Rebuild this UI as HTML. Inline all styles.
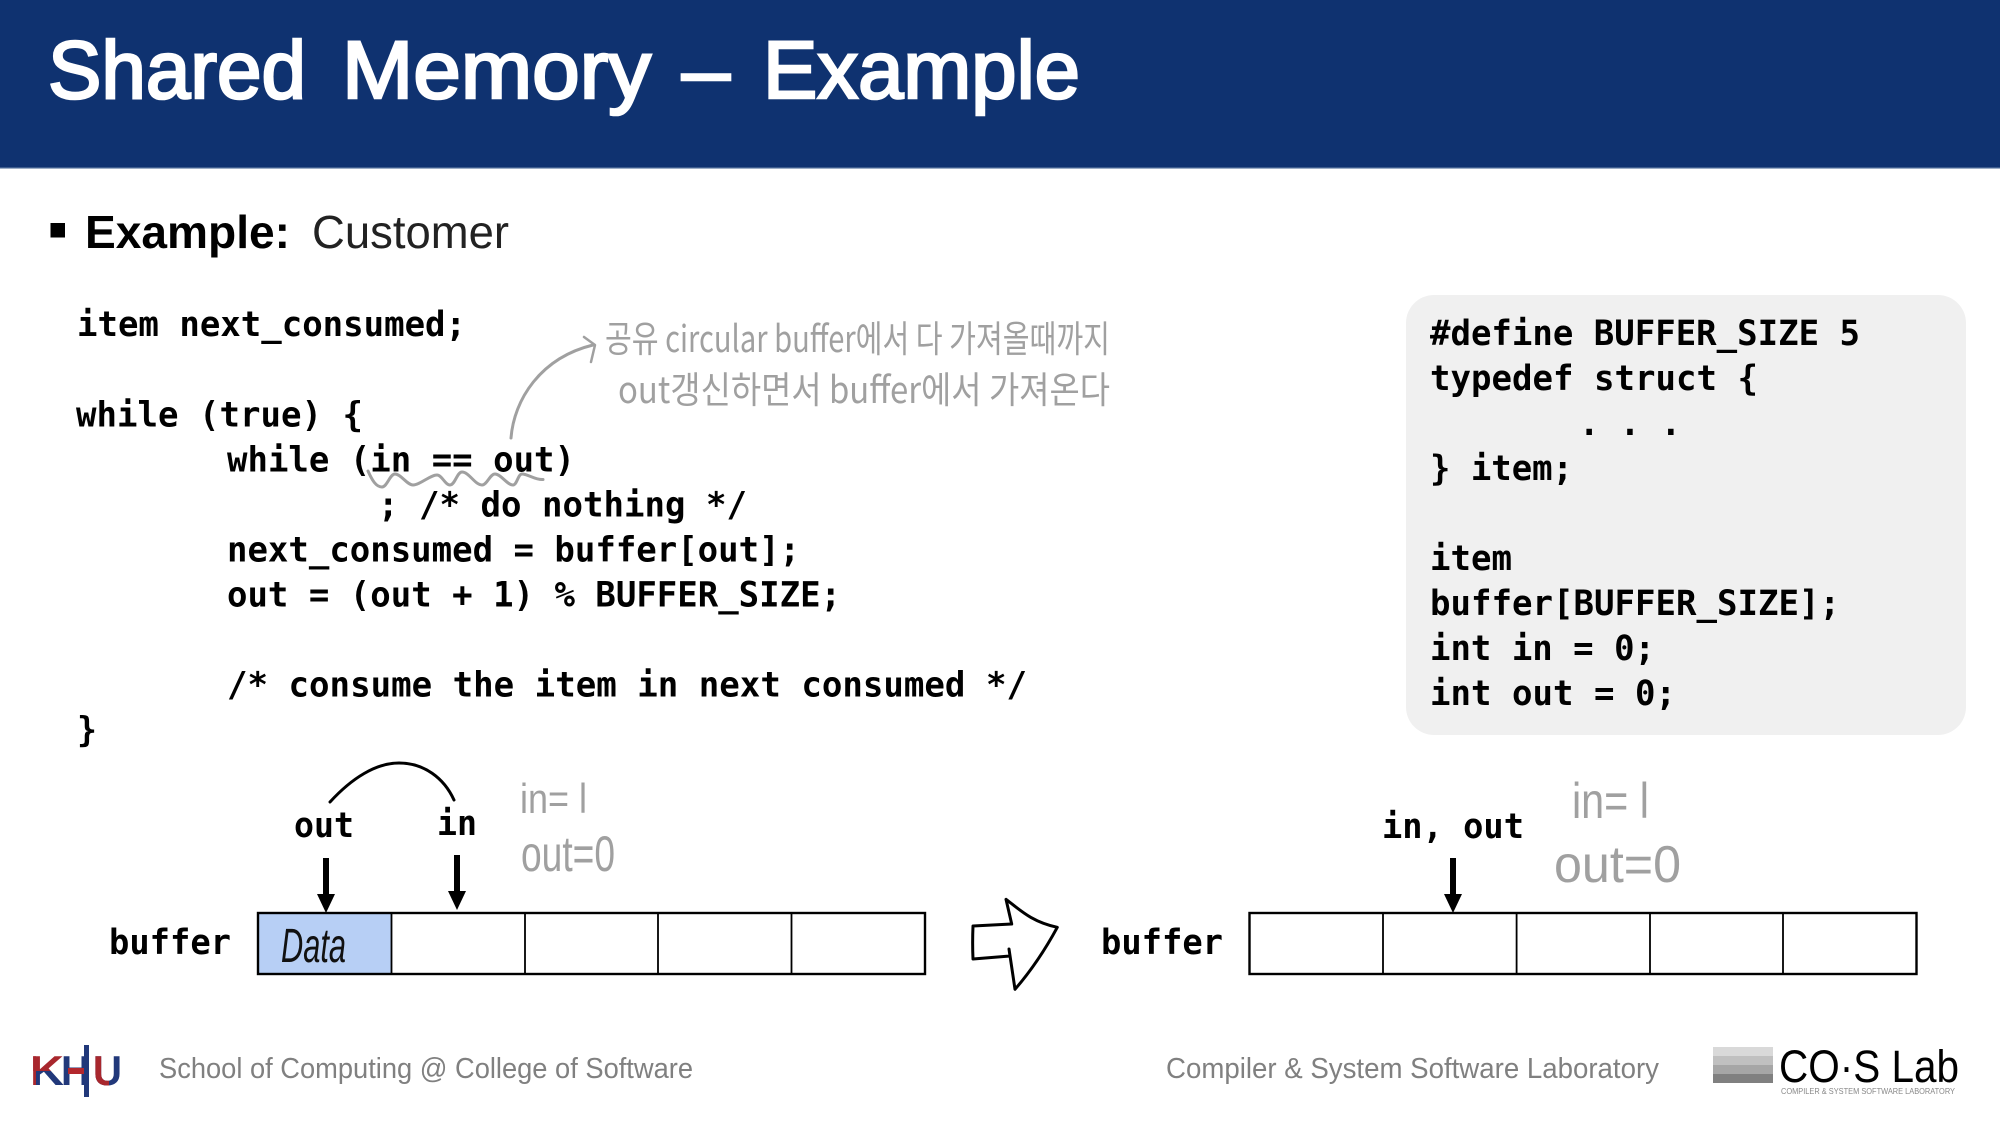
<!DOCTYPE html>
<html lang="en">
<head>
<meta charset="utf-8">
<title>Shared Memory - Example</title>
<style>
html,body{margin:0;padding:0;background:#fff;width:2000px;height:1125px;overflow:hidden}
svg{display:block}
.m{font-family:"DejaVu Sans Mono","Liberation Mono",monospace;font-weight:700;font-size:35px;fill:#000}
.s{font-family:"Liberation Sans",sans-serif}
.t{font-family:"Liberation Sans",sans-serif;font-size:82px;fill:#fff;stroke:#fff;stroke-width:2.6}
.h{font-family:"Noto Sans CJK KR","NanumGothic","Liberation Sans",sans-serif;font-weight:400;fill:#a0a0a0}
.hw{font-family:"Liberation Sans",sans-serif;fill:#a0a0a0}
.f{font-family:"Liberation Sans",sans-serif;font-size:29px;fill:#808080}
</style>
</head>
<body>
<svg xmlns="http://www.w3.org/2000/svg" width="2000" height="1125" viewBox="0 0 2000 1125">
<defs>
<clipPath id="ku"><rect x="20" y="1040" width="120" height="31"/></clipPath>
<clipPath id="kl"><rect x="36" y="1071" width="120" height="30"/></clipPath>
<clipPath id="kb"><rect x="20" y="1040" width="16" height="60"/></clipPath>
<clipPath id="ur"><rect x="90" y="1040" width="19" height="60"/></clipPath>
</defs>
<rect width="2000" height="1125" fill="#fff"/>
<rect width="2000" height="168" fill="#0f3270"/>
<rect y="167" width="2000" height="1.5" fill="#3d5c8e"/>
<text class="t" x="48" y="98" textLength="258" lengthAdjust="spacingAndGlyphs">Shared</text>
<text class="t" x="342" y="98" textLength="309" lengthAdjust="spacingAndGlyphs">Memory</text>
<text class="t" x="682" y="98" textLength="48" lengthAdjust="spacingAndGlyphs">–</text>
<text class="t" x="763" y="98" textLength="317" lengthAdjust="spacingAndGlyphs">Example</text>

<rect x="50.5" y="223" width="14.5" height="14.5" fill="#000"/>
<text class="s" x="85" y="248" font-size="46" font-weight="700" textLength="205" lengthAdjust="spacingAndGlyphs">Example:</text>
<text class="s" x="312" y="248" font-size="46" textLength="197" lengthAdjust="spacingAndGlyphs" fill="#222">Customer</text>

<!-- Code -->
<text class="m" x="77" y="336" textLength="389" lengthAdjust="spacingAndGlyphs">item next_consumed;</text>
<text class="m" x="76" y="426.5" textLength="287" lengthAdjust="spacingAndGlyphs">while (true) {</text>
<text class="m" x="227" y="471.5" textLength="348" lengthAdjust="spacingAndGlyphs">while (in == out)</text>
<text class="m" x="378" y="516.5" textLength="369" lengthAdjust="spacingAndGlyphs">; /* do nothing */</text>
<text class="m" x="227" y="561.5" textLength="573" lengthAdjust="spacingAndGlyphs">next_consumed = buffer[out];</text>
<text class="m" x="227" y="606.5" textLength="614" lengthAdjust="spacingAndGlyphs">out = (out + 1) % BUFFER_SIZE;</text>
<text class="m" x="227" y="696.5" textLength="800" lengthAdjust="spacingAndGlyphs">/* consume the item in next consumed */</text>
<text class="m" x="77" y="741.5" textLength="20" lengthAdjust="spacingAndGlyphs">}</text>

<!-- Panel -->
<rect x="1406" y="295" width="560" height="440" rx="28" ry="28" fill="#f0f0f0"/>
<text class="m" x="1430" y="345" textLength="430" lengthAdjust="spacingAndGlyphs">#define BUFFER_SIZE 5</text>
<text class="m" x="1430" y="390" textLength="328" lengthAdjust="spacingAndGlyphs">typedef struct {</text>
<text class="m" x="1579" y="435" textLength="102" lengthAdjust="spacingAndGlyphs">. . .</text>
<text class="m" x="1430" y="480" textLength="143" lengthAdjust="spacingAndGlyphs">} item;</text>
<text class="m" x="1430" y="570" textLength="82" lengthAdjust="spacingAndGlyphs">item</text>
<text class="m" x="1430" y="615" textLength="410" lengthAdjust="spacingAndGlyphs">buffer[BUFFER_SIZE];</text>
<text class="m" x="1430" y="660" textLength="225" lengthAdjust="spacingAndGlyphs">int in = 0;</text>
<text class="m" x="1430" y="705" textLength="246" lengthAdjust="spacingAndGlyphs">int out = 0;</text>

<!-- Annotation -->
<path d="M511 438C514 400 540 358 593 345" fill="none" stroke="#a0a0a0" stroke-width="3" stroke-linecap="round"/>
<path d="M584 337L595 345L591 362" fill="none" stroke="#a0a0a0" stroke-width="2.5" stroke-linecap="round" stroke-linejoin="round"/>
<path d="M368 471C372 480 376 487 382 487C387 487 390 474 395 474C401 474 407 485 413 485C420 485 430 475 437 475C442 475 445 485 450 485C455 485 457 472 462 472C469 472 475 485 482 485C487 485 490 474 495 474C501 474 507 485 513 485C517 485 518 474 522 474C528 474 535 480 543 479.5" fill="none" stroke="#a0a0a0" stroke-width="3" stroke-linecap="round"/>
<text class="h" x="605" y="352" font-size="37" textLength="505" lengthAdjust="spacingAndGlyphs">공유 circular buffer에서 다 가져올때까지</text>
<text class="h" x="618" y="403" font-size="37" textLength="492" lengthAdjust="spacingAndGlyphs">out갱신하면서 buffer에서 가져온다</text>

<!-- Left buffer -->
<rect x="258" y="913" width="133.5" height="61" fill="#b7cff5"/>
<rect x="258" y="913" width="667" height="61" fill="none" stroke="#000" stroke-width="2.4"/>
<path d="M391.5 913V974M525 913V974M658 913V974M791.5 913V974" stroke="#000" stroke-width="1.8" fill="none"/>
<text class="m" x="109" y="954" textLength="122" lengthAdjust="spacingAndGlyphs">buffer</text>
<text class="m" x="294" y="837" textLength="60" lengthAdjust="spacingAndGlyphs">out</text>
<text class="m" x="437" y="835" textLength="40" lengthAdjust="spacingAndGlyphs">in</text>
<path d="M326 858V897" stroke="#000" stroke-width="6"/><path d="M317 894H335L326 913Z" fill="#000"/>
<path d="M457 855V894" stroke="#000" stroke-width="6"/><path d="M448 891H466L457 910Z" fill="#000"/>
<path d="M330 802C352 778 376 763 399 763C424 763 444 778 454 800" fill="none" stroke="#000" stroke-width="3" stroke-linecap="round"/>
<text class="s" x="281" y="962" font-size="48" font-style="italic" textLength="65" lengthAdjust="spacingAndGlyphs" fill="#111">Data</text>
<text class="hw" x="520" y="813" font-size="42" textLength="67" lengthAdjust="spacingAndGlyphs">in= l</text>
<text class="hw" x="521" y="871" font-size="50" textLength="94" lengthAdjust="spacingAndGlyphs">out=0</text>

<!-- Big arrow -->
<path d="M973 926L1011.7 924L1006 899.3C1020 910 1032 922 1057.3 927.3C1045 950 1030 972 1015 989.3L1009 949L1010 956L973 959C972.5 948 972.5 938 973 926Z" fill="none" stroke="#000" stroke-width="3" stroke-linejoin="round"/>

<!-- Right buffer -->
<rect x="1249.5" y="913" width="667" height="61" fill="none" stroke="#000" stroke-width="2.4"/>
<path d="M1383 913V974M1516.6 913V974M1650 913V974M1783 913V974" stroke="#000" stroke-width="1.8" fill="none"/>
<text class="m" x="1101" y="954" textLength="122" lengthAdjust="spacingAndGlyphs">buffer</text>
<text class="m" x="1382" y="838" textLength="142" lengthAdjust="spacingAndGlyphs">in, out</text>
<path d="M1453 858V897" stroke="#000" stroke-width="6"/><path d="M1444 894H1462L1453 913Z" fill="#000"/>
<text class="hw" x="1572" y="818" font-size="50" textLength="77" lengthAdjust="spacingAndGlyphs">in= l</text>
<text class="hw" x="1554" y="882" font-size="52" textLength="127" lengthAdjust="spacingAndGlyphs">out=0</text>

<!-- Footer -->
<text class="s" x="30" y="1085" font-size="42" font-weight="700" fill="#a8272d" textLength="34" lengthAdjust="spacingAndGlyphs" clip-path="url(#ku)">K</text>
<text class="s" x="30" y="1085" font-size="42" font-weight="700" fill="#a8272d" textLength="34" lengthAdjust="spacingAndGlyphs" clip-path="url(#kb)">K</text>
<text class="s" x="30" y="1085" font-size="42" font-weight="700" fill="#21387a" textLength="34" lengthAdjust="spacingAndGlyphs" clip-path="url(#kl)">K</text>
<text class="s" x="61" y="1085" font-size="42" font-weight="700" fill="#21387a" textLength="29" lengthAdjust="spacingAndGlyphs">H</text>
<text class="s" x="93" y="1085" font-size="42" font-weight="700" fill="#21387a" textLength="29" lengthAdjust="spacingAndGlyphs">U</text>
<text class="s" x="93" y="1085" font-size="42" font-weight="700" fill="#a8272d" textLength="29" lengthAdjust="spacingAndGlyphs" clip-path="url(#ur)">U</text>
<rect x="84" y="1045" width="5" height="52" fill="#21387a"/>
<rect x="68" y="1068" width="16" height="6" fill="#b3272d"/>
<text class="f" x="159" y="1078" textLength="534" lengthAdjust="spacingAndGlyphs">School of Computing @ College of Software</text>
<text class="f" x="1166" y="1078" textLength="493" lengthAdjust="spacingAndGlyphs">Compiler &amp; System Software Laboratory</text>
<rect x="1713" y="1047" width="60" height="9" fill="#d9d9d9"/>
<rect x="1713" y="1056" width="60" height="9" fill="#c0c0c0"/>
<rect x="1713" y="1065" width="60" height="9" fill="#a6a6a6"/>
<rect x="1713" y="1074" width="60" height="9" fill="#808080"/>
<text class="s" x="1779" y="1082" font-size="45" fill="#000" textLength="180" lengthAdjust="spacingAndGlyphs">CO·S Lab</text>
<text class="s" x="1781" y="1094" font-size="8" fill="#888" textLength="174" lengthAdjust="spacingAndGlyphs">COMPILER &amp; SYSTEM SOFTWARE LABORATORY</text>
</svg>
</body>
</html>
